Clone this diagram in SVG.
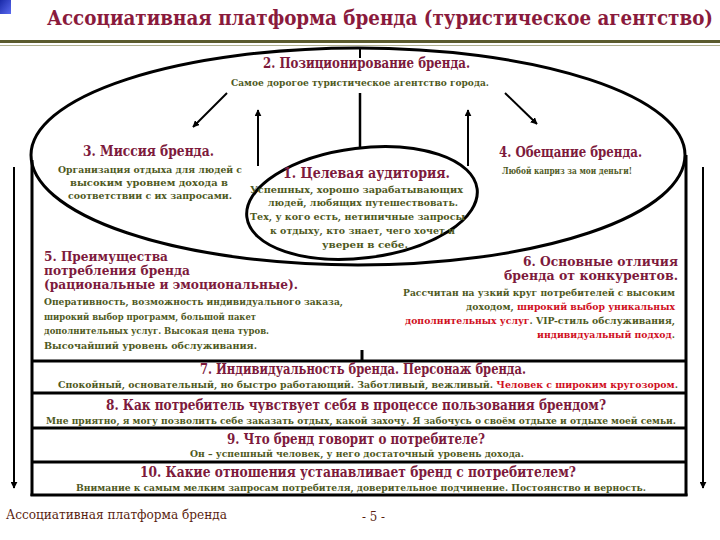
<svg xmlns="http://www.w3.org/2000/svg" width="720" height="540" viewBox="0 0 720 540">
<defs>
<linearGradient id="blue" x1="0" y1="0" x2="1" y2="1"><stop offset="0" stop-color="#1a2aa8"/><stop offset="1" stop-color="#5a6af0"/></linearGradient>
<marker id="ah" viewBox="0 0 10 10" refX="9" refY="5" markerWidth="7" markerHeight="7" orient="auto" markerUnits="userSpaceOnUse"><path d="M0,0 L10,5 L0,10 z" fill="#000"/></marker>
<style>
.ttl{font-size:20px;fill:#8a1a3c}
.h{font-size:15px;fill:#7d1a3c}
.hs{font-size:12.5px;fill:#7d1a3c}
.b{font-size:10px;fill:#4f5a1e}
.r{fill:#d0101e}
.ft{font-size:12px;fill:#5a1e10;font-weight:normal}
.ln{stroke:#000;stroke-width:3;fill:none}
.ar{stroke:#000;stroke-width:2;fill:none;marker-end:url(#ah)}
</style>
</defs>
<rect x="0" y="0" width="11" height="14" fill="url(#blue)"/>
<rect x="0" y="40" width="720" height="3" fill="#5b5b2e"/>
<line x1="0" y1="45.5" x2="720" y2="45.5" stroke="#b0b090" stroke-width="1"/>

<g id="connectors">
<path class="ln" d="M31,155 A327,107 0 0 1 685,155 A327,110 0 0 1 31,155 Z"/>
<ellipse class="ln" cx="362" cy="203" rx="116" ry="55" transform="rotate(-7 362 203)"/>
<line class="ln" x1="32" y1="160" x2="32" y2="496"/>
<line class="ln" x1="686" y1="155" x2="686" y2="496"/>
<line class="ln" x1="30.5" y1="495" x2="687.5" y2="495"/>
<line class="ln" x1="32" y1="361" x2="686" y2="361"/>
<line class="ln" x1="32" y1="393" x2="686" y2="393"/>
<line class="ln" x1="32" y1="428" x2="686" y2="428"/>
<line class="ln" x1="32" y1="462" x2="686" y2="462"/>
<line class="ln" x1="362" y1="350" x2="362" y2="361"/>
<line x1="360" y1="48" x2="360" y2="58" stroke="#000" stroke-width="2"/>
<line x1="360" y1="93" x2="360" y2="147" stroke="#000" stroke-width="2.5"/>
<line class="ar" x1="227" y1="93" x2="193" y2="127"/>
<line class="ar" x1="505" y1="93" x2="537" y2="124"/>
<line class="ar" x1="258" y1="166" x2="258" y2="110"/>
<line class="ar" x1="468" y1="166" x2="468" y2="110"/>
<line class="ar" x1="14" y1="167" x2="14" y2="488"/>
<line class="ar" x1="703" y1="167" x2="703" y2="488"/>
</g>

<g font-family="DejaVu Serif Condensed, DejaVu Serif, serif" font-stretch="condensed" font-weight="bold">
<text class="ttl" x="47" y="25" textLength="666" lengthAdjust="spacingAndGlyphs">Ассоциативная платформа бренда (туристическое агентство)</text>

<g id="n2">
<text class="h" x="263" y="68" textLength="207" lengthAdjust="spacingAndGlyphs">2. Позиционирование бренда.</text>
<text class="b" x="231" y="86" textLength="258" lengthAdjust="spacingAndGlyphs">Самое дорогое туристическое агентство города.</text>
</g>

<g id="n3">
<text class="h" x="83" y="156" textLength="131" lengthAdjust="spacingAndGlyphs">3. Миссия бренда.</text>
<text class="b" x="58" y="173" textLength="184" lengthAdjust="spacingAndGlyphs">Организация отдыха для людей с</text>
<text class="b" x="70" y="186" textLength="158" lengthAdjust="spacingAndGlyphs">высоким уровнем дохода в</text>
<text class="b" x="68" y="199" textLength="164" lengthAdjust="spacingAndGlyphs">соответствии с их запросами.</text>
</g>

<g id="n4">
<text class="h" x="499" y="157" textLength="143" lengthAdjust="spacingAndGlyphs">4. Обещание бренда.</text>
<text class="b" x="502" y="174" textLength="130" lengthAdjust="spacingAndGlyphs">Любой каприз за мои деньги!</text>
</g>

<g id="n1">
<text class="h" x="283" y="178" textLength="167" lengthAdjust="spacingAndGlyphs">1. Целевая аудитория.</text>
<text class="b" x="250" y="193" textLength="213" lengthAdjust="spacingAndGlyphs">Успешных, хорошо зарабатывающих</text>
<text class="b" x="268" y="206" textLength="190" lengthAdjust="spacingAndGlyphs">людей, любящих путешествовать.</text>
<text class="b" x="250" y="220" textLength="215" lengthAdjust="spacingAndGlyphs">Тех, у кого есть, нетипичные запросы</text>
<text class="b" x="270" y="234" textLength="185" lengthAdjust="spacingAndGlyphs">к отдыху, кто знает, чего хочет и</text>
<text class="b" x="322" y="248" textLength="86" lengthAdjust="spacingAndGlyphs">уверен в себе.</text>
</g>

<g id="n5">
<text class="hs" x="44" y="261" textLength="124" lengthAdjust="spacingAndGlyphs">5. Преимущества</text>
<text class="hs" x="44" y="275" textLength="146" lengthAdjust="spacingAndGlyphs">потребления бренда</text>
<text class="hs" x="44" y="289" textLength="254" lengthAdjust="spacingAndGlyphs">(рациональные и эмоциональные).</text>
<text class="b" x="44" y="305" textLength="299" lengthAdjust="spacingAndGlyphs">Оперативность, возможность индивидуального заказа,</text>
<text class="b" x="44" y="320" textLength="212" lengthAdjust="spacingAndGlyphs">широкий выбор программ, большой пакет</text>
<text class="b" x="44" y="334" textLength="225" lengthAdjust="spacingAndGlyphs">дополнительных услуг. Высокая цена туров.</text>
<text class="b" x="44" y="349" textLength="213" lengthAdjust="spacingAndGlyphs">Высочайший уровень обслуживания.</text>
</g>

<g id="n6">
<text class="hs" x="523" y="266" textLength="155" lengthAdjust="spacingAndGlyphs">6. Основные отличия</text>
<text class="hs" x="504" y="280" textLength="174" lengthAdjust="spacingAndGlyphs">бренда от  конкурентов.</text>
<text class="b" x="403" y="296" textLength="272" lengthAdjust="spacingAndGlyphs">Рассчитан на узкий круг потребителей с высоким</text>
<text class="b" x="466" y="310" textLength="209" lengthAdjust="spacingAndGlyphs">доходом, <tspan class="r">широкий выбор уникальных</tspan></text>
<text class="b" x="405" y="324" textLength="270" lengthAdjust="spacingAndGlyphs"><tspan class="r">дополнительных услуг</tspan>. VIP-стиль обслуживания,</text>
<text class="b" x="537" y="338" textLength="138" lengthAdjust="spacingAndGlyphs"><tspan class="r">индивидуальный подход</tspan>.</text>
</g>

<g id="n7">
<text class="h" x="200" y="374" textLength="326" lengthAdjust="spacingAndGlyphs">7. Индивидуальность бренда. Персонаж бренда.</text>
<text class="b" x="58" y="388" textLength="620" lengthAdjust="spacingAndGlyphs">Спокойный, основательный, но быстро работающий. Заботливый, вежливый. <tspan class="r">Человек с широким кругозором</tspan>.</text>
</g>

<g id="n8">
<text class="h" x="106" y="410" textLength="500" lengthAdjust="spacingAndGlyphs">8. Как потребитель чувствует себя в процессе пользования брендом?</text>
<text class="b" x="46" y="424" textLength="630" lengthAdjust="spacingAndGlyphs">Мне приятно, я могу позволить себе заказать отдых, какой захочу. Я забочусь о своём отдыхе и отдыхе моей семьи.</text>
</g>

<g id="n9">
<text class="h" x="227" y="444" textLength="258" lengthAdjust="spacingAndGlyphs">9. Что бренд говорит о потребителе?</text>
<text class="b" x="190" y="457" textLength="334" lengthAdjust="spacingAndGlyphs">Он – успешный человек, у него достаточный уровень дохода.</text>
</g>

<g id="n10">
<text class="h" x="140" y="477" textLength="436" lengthAdjust="spacingAndGlyphs">10. Какие отношения устанавливает бренд с потребителем?</text>
<text class="b" x="76" y="491" textLength="570" lengthAdjust="spacingAndGlyphs">Внимание к самым мелким запросам потребителя, доверительное подчинение. Постоянство и верность.</text>
</g>

<g id="footer">
<text class="ft" x="6" y="519" textLength="221" lengthAdjust="spacingAndGlyphs">Ассоциативная платформа бренда</text>
<text class="ft" x="362" y="521" textLength="23" lengthAdjust="spacingAndGlyphs">- 5 -</text>
</g>
</g>
</svg>
